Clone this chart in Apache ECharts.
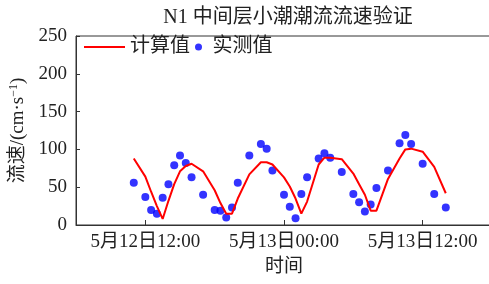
<!DOCTYPE html>
<html>
<head>
<meta charset="utf-8">
<script src="https://cdn.jsdelivr.net/npm/echarts@6/dist/echarts.min.js"></script>
<style>html,body{margin:0;padding:0;background:#fff}#c{width:489px;height:284px}</style>
</head>
<body>
<div id="c"></div>
<script>
// time in hours since 5月12日 00:00
var obsTimes = [11, 12, 12.5, 13, 13.5, 14, 14.5, 15, 15.5, 16, 17, 18, 18.5, 19, 19.5, 20, 21, 22, 22.5, 23, 24, 24.5, 25, 25.5, 26, 27, 27.5, 28, 29, 30, 30.5, 31, 31.5, 32, 33, 34, 34.5, 35, 36, 37, 38];
var obsValues = [56, 37, 20, 15, 36, 54, 79, 92, 82, 63, 40, 20, 19, 10, 23, 56, 92, 107, 101, 72, 40, 24, 9, 41, 63, 88, 95, 89, 70, 41, 30, 18, 27, 49, 72, 108, 119, 107, 81, 41, 23];
var calcTimes = obsTimes;
var calcValues = [88, 64, 44, 25, 8, 32, 54, 71, 78, 81, 71, 46, 29, 15, 15, 35, 67, 83, 83, 80, 63, 51, 35, 15, 31, 80, 89, 89, 87, 68, 54, 40, 19, 19, 61, 88, 100, 101, 97, 77, 42];
var xTickHours = [12, 24, 36];
var xTickLabels = ["5月12日12:00", "5月13日00:00", "5月13日12:00"];

var FONT = "'Liberation Serif','Noto Sans CJK SC',serif";
var TXT = '#222';
var chart = echarts.init(document.getElementById('c'), null, {renderer: 'canvas'});
function pairs(t, v) { return t.map(function (x, i) { return [x, v[i]]; }); }
chart.setOption({
  animation: false,
  backgroundColor: '#fff',
  title: {
    text: 'N1 中间层小潮潮流流速验证',
    left: 283, top: 3, textAlign: 'center',
    textStyle: {fontFamily: FONT, fontSize: 20, fontWeight: 'normal', color: TXT}
  },
  legend: [{
    data: [{name: '计算值', icon: 'rect'}], left: 84, top: 37, itemWidth: 41, itemHeight: 2,
    padding: [0, 0, 0, 0],
    textStyle: {fontFamily: FONT, fontSize: 20, color: TXT}
  }, {
    data: [{name: '实测值', icon: 'circle'}], left: 195, top: 37, itemWidth: 18, itemHeight: 7,
    padding: [0, 0, 0, 0],
    textStyle: {fontFamily: FONT, fontSize: 20, color: TXT}
  }],
  grid: {left: 76, top: 36, right: -3, bottom: 59, show: true, borderColor: '#333', borderWidth: 1, outerBoundsMode: 'none'},
  xAxis: {
    type: 'value', min: 6, max: 42,
    name: '时间', nameLocation: 'middle', nameGap: 33,
    nameTextStyle: {fontFamily: FONT, fontSize: 19, color: TXT},
    axisLine: {show: true, lineStyle: {color: '#333', width: 1}},
    axisTick: {show: true, inside: true, length: 5, customValues: xTickHours, lineStyle: {color: '#333'}},
    axisLabel: {
      customValues: xTickHours, margin: 8,
      fontFamily: FONT, fontSize: 19, color: TXT,
      formatter: function (v) { var i = xTickHours.indexOf(v); return i >= 0 ? xTickLabels[i] : ''; }
    },
    splitLine: {show: false}
  },
  yAxis: {
    type: 'value', min: 0, max: 250, interval: 50,
    name: '{a|流速/(cm·s}{s|−1}{a|)}', nameLocation: 'middle', nameGap: 46, nameRotate: 90,
    nameTextStyle: {
      rich: {
        a: {fontFamily: FONT, fontSize: 19, color: TXT},
        s: {fontFamily: FONT, fontSize: 12, color: TXT, verticalAlign: 'top', padding: [0, 0, 8, 0]}
      }
    },
    axisLine: {show: true, lineStyle: {color: '#333', width: 1}},
    axisTick: {show: true, inside: true, length: 4, lineStyle: {color: '#333'}},
    axisLabel: {margin: 9, fontFamily: FONT, fontSize: 19, color: TXT},
    splitLine: {show: false}
  },
  series: [{
    name: '计算值', type: 'line', data: pairs(calcTimes, calcValues),
    symbol: 'none', showSymbol: false,
    lineStyle: {color: '#ff0000', width: 2}, itemStyle: {color: '#ff0000'}
  }, {
    name: '实测值', type: 'scatter', data: pairs(obsTimes, obsValues),
    symbol: 'circle', symbolSize: 8, itemStyle: {color: '#0000ff'}
  }]
});
</script>
</body>
</html>
